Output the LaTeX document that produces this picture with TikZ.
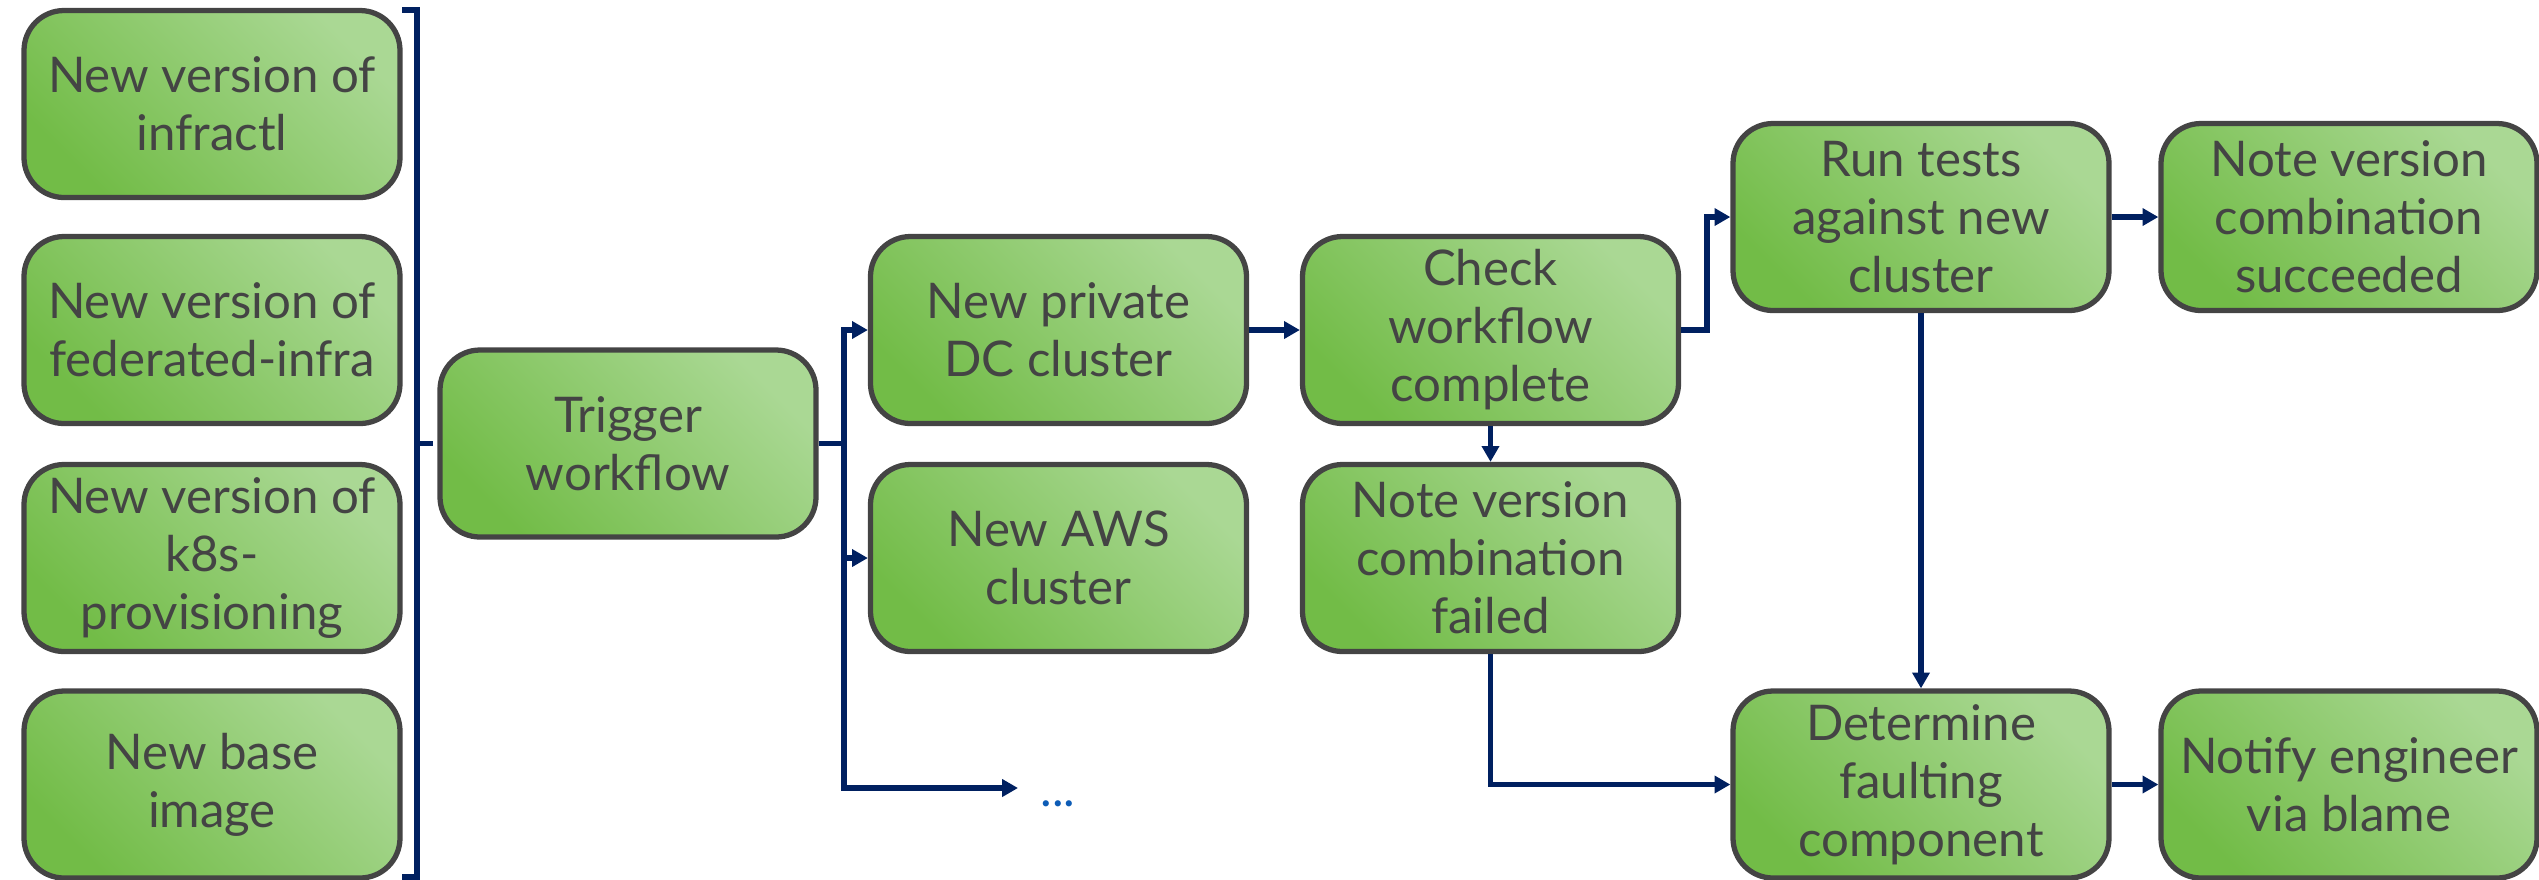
\documentclass[tikz,border=0pt]{standalone}
\usepackage{fontspec}
\setmainfont{Lato}
\usetikzlibrary{arrows.meta}
\definecolor{navy}{HTML}{002060}
\definecolor{boxline}{HTML}{444444}
\definecolor{gdark}{HTML}{72BC47}
\definecolor{glight}{HTML}{AAD894}
\definecolor{dotblue}{HTML}{0D5CB6}
\begin{document}
\begin{tikzpicture}[
		box/.style={draw=boxline,line width=1.5pt,rounded corners=0.4cm,minimum width=3.76cm,minimum height=1.87cm,inner sep=0pt,align=center,text=boxline,font=\fontsize{14}{16.5}\selectfont,bottom color=gdark,top color=glight,shading angle=-45},
		link/.style={navy,line width=1.6pt},
		flow/.style={link,-{Triangle[length=4.5pt,width=4.8pt]}}
	]
		\useasboundingbox (0,0) rectangle (25.39,-8.79);
		\node[box] (infra) at (2.12,-1.04) {New version of\\infractl};
		\node[box] (fed) at (2.12,-3.30) {New version of\\federated-infra};
		\node[box] (k8s) at (2.12,-5.58) {New version of\\k8s-\\provisioning};
		\node[box] (base) at (2.12,-7.845) {New base\\image};
		\node[box] (trigger) at (6.28,-4.435) {Trigger\\workflow};
		\node[box] (dc) at (10.585,-3.30) {New private\\DC cluster};
		\node[box] (aws) at (10.585,-5.58) {New AWS\\cluster};
		\node[anchor=base west,inner sep=0pt,text=dotblue,font=\fontsize{14}{16}\selectfont] (dots) at (10.40,-8.06) {...};
		\node[box] (check) at (14.905,-3.30) {Check\\workflow\\complete};
		\node[box] (failed) at (14.905,-5.58) {Note version\\combination\\failed};
		\node[box] (tests) at (19.21,-2.17) {Run tests\\against new\\cluster};
		\node[box] (ok) at (23.49,-2.17) {Note version\\combination\\succeeded};
		\node[box] (fault) at (19.21,-7.845) {Determine\\faulting\\component};
		\node[box] (notify) at (23.49,-7.845) {Notify engineer\\via blame};
		% bracket round the four triggers
		\coordinate (bk) at (4.17,-4.435);
		\draw[link] (4.02,-0.10) -- (4.17,-0.10) -- (4.17,-8.77) -- (4.02,-8.77);
		\draw[link] (bk) -- ++(0.16,0);
		% fan out to the clusters
		\coordinate (fork) at (8.44,-4.435);
		\coordinate (dotsin) at (10.18,-7.88);
		\draw[link] (trigger.east) -- (fork);
		\draw[flow] (fork) |- (dc.west);
		\draw[flow] (fork) |- (aws.west);
		\draw[flow] (fork) |- (dotsin);
		\draw[flow] (dc) -- (check);
		\draw[flow] (check.east) -- ++(0.26,0) |- (tests.west);
		\draw[flow] (check) -- (failed);
		\draw[flow] (tests) -- (ok);
		\draw[flow] (tests) -- (fault);
		\draw[flow] (failed.south) |- (fault.west);
		\draw[flow] (fault) -- (notify);
	\end{tikzpicture}
\end{document}
